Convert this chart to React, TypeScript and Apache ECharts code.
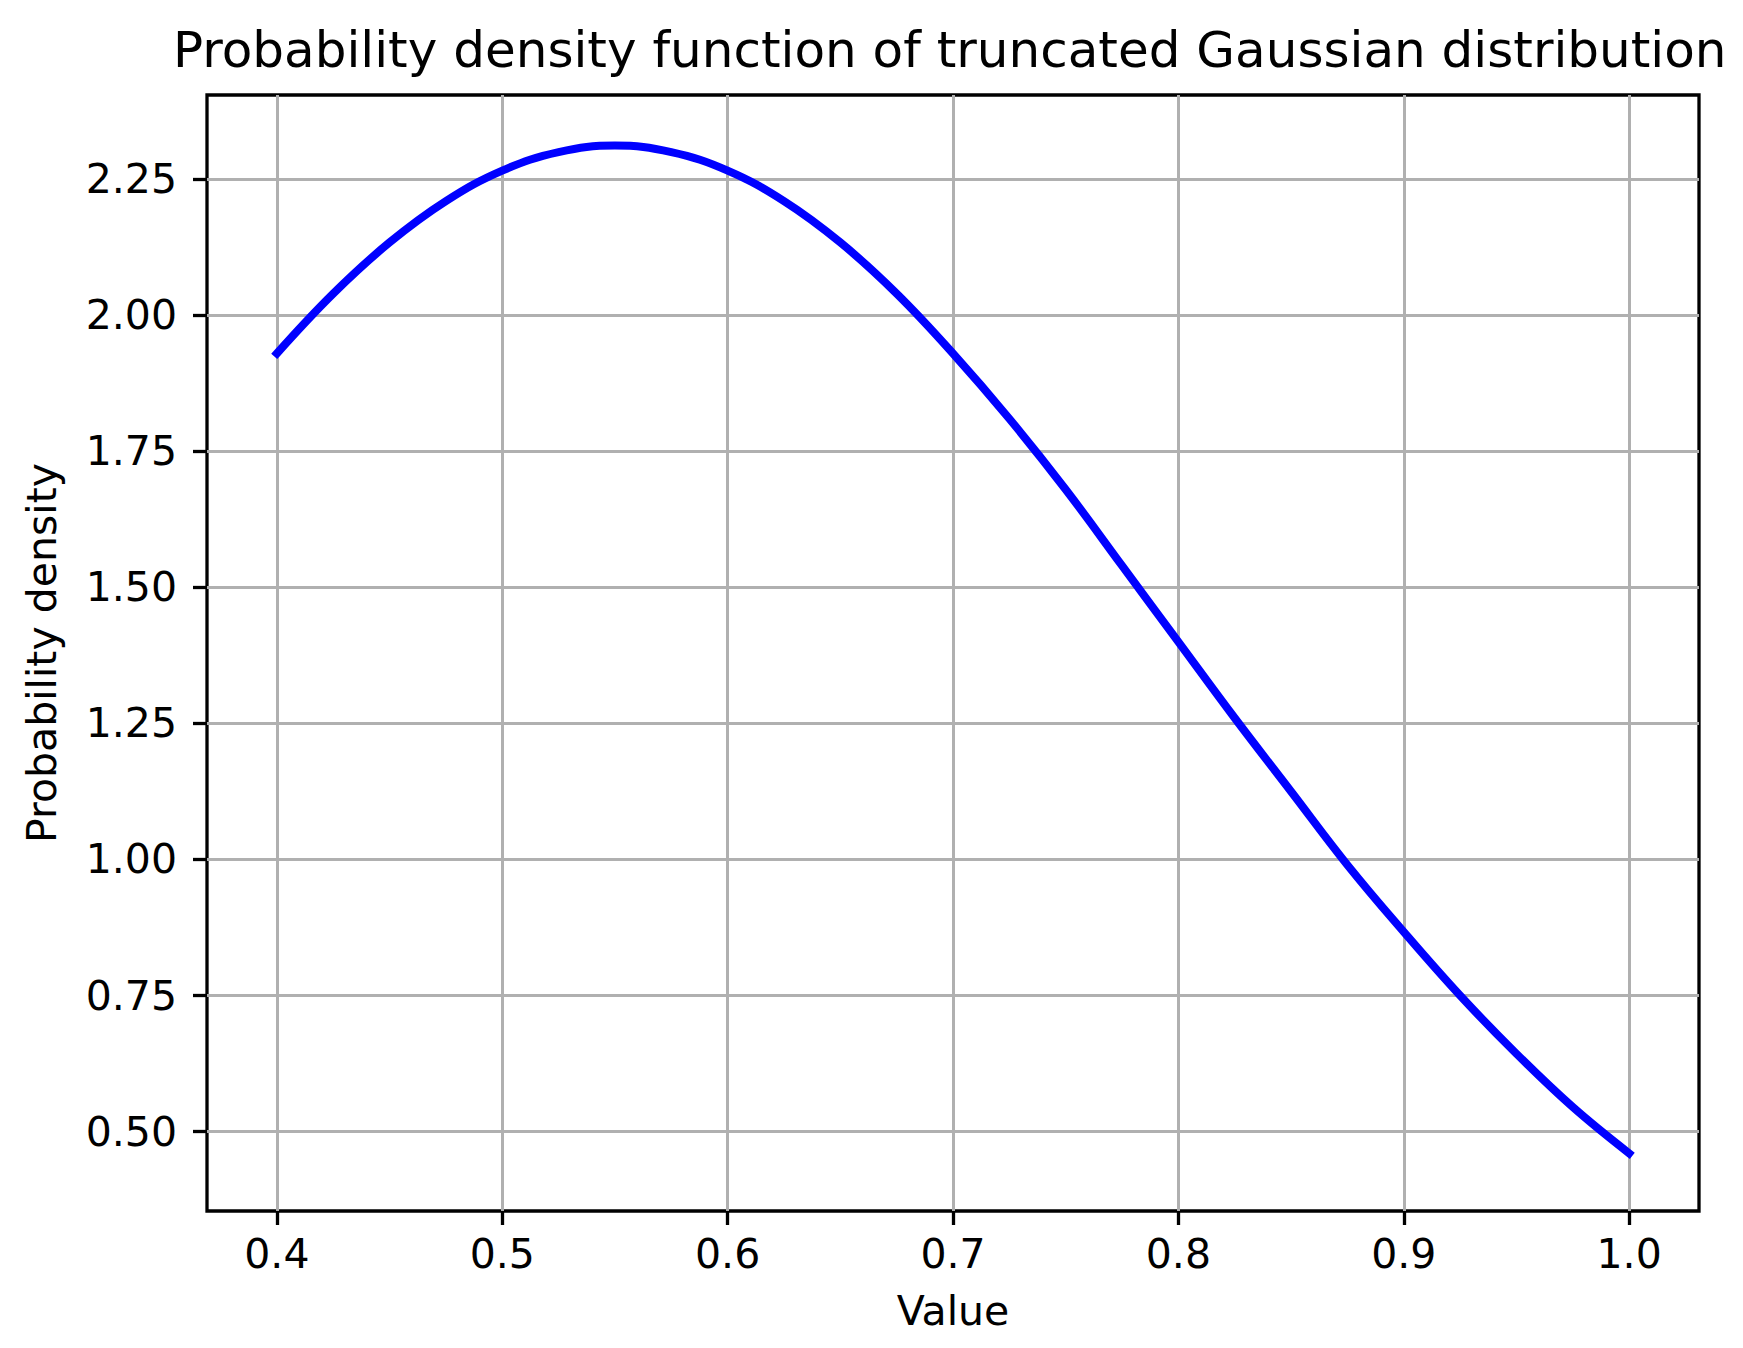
import React, { useEffect, useRef } from "react";
import * as echarts from "echarts";

const titleText = "Probability density function of truncated Gaussian distribution";
const xAxisName = "Value";
const yAxisName = "Probability density";

const xValues = [
  0.4, 0.425, 0.45, 0.475, 0.5, 0.525, 0.55, 0.575, 0.6, 0.625, 0.65, 0.675, 0.7,
  0.725, 0.75, 0.775, 0.8, 0.825, 0.85, 0.875, 0.9, 0.925, 0.95, 0.975, 1.0,
];
const densityValues = [
  1.93, 2.04, 2.134, 2.21, 2.266, 2.30, 2.312, 2.30, 2.266, 2.21, 2.134, 2.04, 1.93,
  1.81, 1.68, 1.54, 1.40, 1.26, 1.125, 0.99, 0.867, 0.75, 0.643, 0.545, 0.46,
];
const xTicks = [0.4, 0.5, 0.6, 0.7, 0.8, 0.9, 1.0];
const yTicks = [0.5, 0.75, 1.0, 1.25, 1.5, 1.75, 2.0, 2.25];

const FONT = "DejaVu Sans";

export default function App() {
  const ref = useRef<HTMLDivElement>(null);
  useEffect(() => {
    if (!ref.current) return;
    const chart = echarts.init(ref.current, null, { renderer: "svg" });
    const data = xValues.map((x, i) => [x, densityValues[i]]);
    chart.setOption({
      animation: false,
      backgroundColor: "#ffffff",
      title: {
        text: titleText,
        left: 173,
        top: 25,
        padding: 0,
        textStyle: { fontFamily: FONT, fontSize: 50, fontWeight: "normal", color: "#000" },
      },
      grid: {
        left: 207,
        right: 44,
        top: 95,
        bottom: 137,
        show: true,
        borderColor: "#000",
        borderWidth: 3.3,
        backgroundColor: "transparent",
        containLabel: false,
      },
      xAxis: {
        type: "value",
        min: 0.369,
        max: 1.031,
        name: xAxisName,
        nameLocation: "middle",
        nameGap: 79,
        nameTextStyle: { fontFamily: FONT, fontSize: 41, color: "#000" },
        axisLine: { show: false },
        axisTick: {
          show: true,
          length: 14,
          lineStyle: { color: "#000", width: 3.3 },
          customValues: xTicks,
        },
        axisLabel: {
          margin: 22,
          fontFamily: FONT,
          fontSize: 41,
          color: "#000",
          customValues: xTicks,
          formatter: (v: number) => v.toFixed(1),
        },
        splitLine: { show: true, lineStyle: { color: "#b0b0b0", width: 3 } },
      },
      yAxis: {
        type: "value",
        min: 0.354,
        max: 2.405,
        name: yAxisName,
        nameLocation: "middle",
        nameGap: 145,
        nameRotate: 90,
        nameTextStyle: { fontFamily: FONT, fontSize: 41, color: "#000" },
        axisLine: { show: false },
        axisTick: {
          show: true,
          length: 14,
          lineStyle: { color: "#000", width: 3.3 },
          customValues: yTicks,
        },
        axisLabel: {
          margin: 30,
          fontFamily: FONT,
          fontSize: 41,
          color: "#000",
          customValues: yTicks,
          formatter: (v: number) => v.toFixed(2),
        },
        splitLine: { show: true, lineStyle: { color: "#b0b0b0", width: 3 } },
      },
      series: [
        {
          type: "line",
          data,
          smooth: 0.4,
          showSymbol: false,
          symbol: "none",
          lineStyle: { color: "#0000ff", width: 8, cap: "square" },
          z: 5,
        },
      ],
    });
    return () => chart.dispose();
  }, []);
  return (
    <div
      ref={ref}
      style={{ position: "absolute", left: 0, top: 0, width: 1743, height: 1348, background: "#fff" }}
    />
  );
}
